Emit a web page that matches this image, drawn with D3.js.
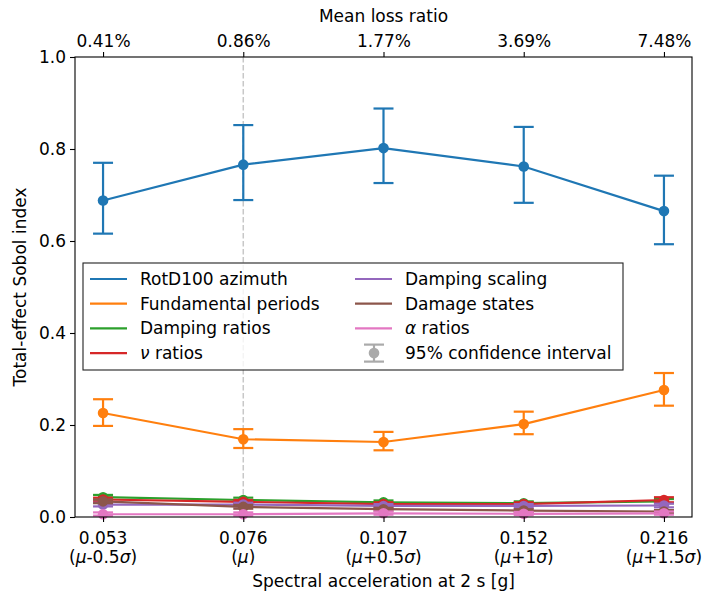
<!DOCTYPE html>
<html>
<head>
<meta charset="utf-8">
<script src="https://cdn.jsdelivr.net/npm/d3@7"></script>
<style>
  body { margin: 0; background: #fff; }
  text { font-family: "DejaVu Sans", sans-serif; fill: #000; }
</style>
</head>
<body>
<div id="chart"></div>
<script>
// Données
const saLabels = ["0.053", "0.076", "0.107", "0.152", "0.216"];
const saNotes = ["-0.5", "", "+0.5", "+1", "+1.5"];
const lossLabels = ["0.41%", "0.86%", "1.77%", "3.69%", "7.48%"];
const yTicks = [0, 0.2, 0.4, 0.6, 0.8, 1.0];

const seriesNames = ["RotD100 azimuth", "Fundamental periods", "Damping ratios", "ν ratios",
                     "Damping scaling", "Damage states", "α ratios"];
const seriesColors = ["#1f77b4", "#ff7f0e", "#2ca02c", "#d62728", "#9467bd", "#8c564b", "#e377c2"];

const azimuth     = [0.688, 0.766, 0.802, 0.762, 0.665];
const azimuthLo   = [0.616, 0.689, 0.726, 0.683, 0.593];
const azimuthHi   = [0.770, 0.852, 0.888, 0.848, 0.742];
const periods     = [0.226, 0.169, 0.163, 0.202, 0.276];
const periodsLo   = [0.198, 0.150, 0.145, 0.180, 0.242];
const periodsHi   = [0.256, 0.191, 0.185, 0.229, 0.313];
const damping     = [0.043, 0.037, 0.032, 0.030, 0.034];
const dampingLo   = [0.038, 0.032, 0.028, 0.026, 0.030];
const dampingHi   = [0.048, 0.042, 0.036, 0.034, 0.039];
const nu          = [0.038, 0.033, 0.028, 0.028, 0.037];
const nuLo        = [0.034, 0.029, 0.024, 0.024, 0.032];
const nuHi        = [0.042, 0.037, 0.032, 0.032, 0.043];
const scaling     = [0.027, 0.027, 0.024, 0.024, 0.025];
const scalingLo   = [0.023, 0.023, 0.020, 0.020, 0.021];
const scalingHi   = [0.031, 0.031, 0.028, 0.028, 0.029];
const damage      = [0.034, 0.022, 0.017, 0.014, 0.012];
const damageLo    = [0.030, 0.018, 0.014, 0.011, 0.009];
const damageHi    = [0.038, 0.026, 0.020, 0.017, 0.015];
const alpha       = [0.006, 0.006, 0.008, 0.007, 0.008];
const alphaLo     = [0.003, 0.003, 0.005, 0.004, 0.005];
const alphaHi     = [0.010, 0.010, 0.012, 0.011, 0.012];

const seriesValues = [azimuth, periods, damping, nu, scaling, damage, alpha];
const seriesLo = [azimuthLo, periodsLo, dampingLo, nuLo, scalingLo, damageLo, alphaLo];
const seriesHi = [azimuthHi, periodsHi, dampingHi, nuHi, scalingHi, damageHi, alphaHi];

// Dimensions
const width = 704, height = 592;
const margin = {left: 75, right: 12, top: 57, bottom: 75};
const plotW = width - margin.left - margin.right;
const plotH = height - margin.top - margin.bottom;
const fs = "17px";

const svg = d3.select("#chart").append("svg")
  .attr("width", width)
  .attr("height", height);

const g = svg.append("g").attr("transform", `translate(${margin.left},${margin.top})`);

const x = d3.scaleLinear().domain([-0.2, 4.2]).range([0, plotW]);
const y = d3.scaleLinear().domain([0, 1]).range([plotH, 0]);
const idx = d3.range(saLabels.length);

// Ligne verticale pointillée à μ
g.append("line")
  .attr("x1", x(1)).attr("x2", x(1))
  .attr("y1", 0).attr("y2", plotH)
  .attr("stroke", "#c8c8c8")
  .attr("stroke-width", 1.5)
  .attr("stroke-dasharray", "5.5,2.5");

// Séries, dans l'ordre (la dernière dessinée est au-dessus)
const line = d3.line().x((d, i) => x(i)).y(d => y(d));
const capW = 10;

seriesValues.forEach((vals, s) => {
  const col = seriesColors[s];
  const sg = g.append("g");
  sg.append("path")
    .datum(vals)
    .attr("d", line)
    .attr("fill", "none")
    .attr("stroke", col)
    .attr("stroke-width", 2.2);
  // barres d'erreur
  idx.forEach(i => {
    const lo = y(seriesLo[s][i]), hi = y(seriesHi[s][i]);
    sg.append("line").attr("x1", x(i)).attr("x2", x(i)).attr("y1", lo).attr("y2", hi)
      .attr("stroke", col).attr("stroke-width", 2.2);
    [lo, hi].forEach(v => sg.append("line")
      .attr("x1", x(i) - capW).attr("x2", x(i) + capW).attr("y1", v).attr("y2", v)
      .attr("stroke", col).attr("stroke-width", 2.2));
  });
  sg.selectAll("circle")
    .data(vals)
    .join("circle")
      .attr("cx", (d, i) => x(i))
      .attr("cy", d => y(d))
      .attr("r", 5.3)
      .attr("fill", col);
});

// Cadre
g.append("rect")
  .attr("width", plotW).attr("height", plotH)
  .attr("fill", "none").attr("stroke", "#000").attr("stroke-width", 1.1);

// Axe Y
const yAxis = g.append("g")
  .call(d3.axisLeft(y).tickValues(yTicks).tickFormat(d3.format(".1f")).tickSize(5).tickPadding(4));
yAxis.select(".domain").remove();
yAxis.selectAll("text").style("font-size", fs).style("font-family", "DejaVu Sans");
yAxis.selectAll("line").attr("stroke-width", 1.1);

// Axe X du bas
const xb = g.append("g").attr("transform", `translate(0,${plotH})`)
  .call(d3.axisBottom(x).tickValues(idx).tickFormat("").tickSize(5));
xb.select(".domain").remove();
xb.selectAll("line").attr("stroke-width", 1.1);
idx.forEach(i => {
  g.append("text")
    .attr("x", x(i)).attr("y", plotH + 27)
    .attr("text-anchor", "middle")
    .style("font-size", fs)
    .text(saLabels[i]);
  const t2 = g.append("text")
    .attr("x", x(i)).attr("y", plotH + 46)
    .attr("text-anchor", "middle")
    .style("font-size", fs);
  t2.append("tspan").text("(");
  t2.append("tspan").style("font-style", "italic").text("μ");
  if (saNotes[i] !== "") {
    t2.append("tspan").text(saNotes[i]);
    t2.append("tspan").style("font-style", "italic").text("σ");
  }
  t2.append("tspan").text(")");
});

// Axe X du haut
const xt = g.append("g")
  .call(d3.axisTop(x).tickValues(idx).tickFormat((d, i) => lossLabels[i]).tickSize(5).tickPadding(5));
xt.select(".domain").remove();
xt.selectAll("text").style("font-size", fs).style("font-family", "DejaVu Sans");
xt.selectAll("line").attr("stroke-width", 1.1);

// Titres des axes
svg.append("text")
  .attr("x", margin.left + plotW / 2).attr("y", 22)
  .attr("text-anchor", "middle").style("font-size", fs)
  .text("Mean loss ratio");
svg.append("text")
  .attr("x", margin.left + plotW / 2).attr("y", 587)
  .attr("text-anchor", "middle").style("font-size", fs)
  .text("Spectral acceleration at 2 s [g]");
svg.append("text")
  .attr("transform", `translate(26,${margin.top + plotH / 2}) rotate(-90)`)
  .attr("text-anchor", "middle").style("font-size", fs)
  .text("Total-effect Sobol index");

// Légende
const leg = svg.append("g").attr("transform", "translate(83,263)");
leg.append("rect")
  .attr("width", 540).attr("height", 107)
  .attr("fill", "#fff").attr("fill-opacity", 0.8)
  .attr("stroke", "#222").attr("stroke-width", 1.1);

const legItems = seriesNames.map((n, i) => ({name: n, color: seriesColors[i]}));
legItems.push({name: "95% confidence interval", color: "#aaa", ci: true});

legItems.forEach((it, i) => {
  const col = Math.floor(i / 4), row = i % 4;
  const lx = 7 + col * 265, ly = 16 + row * 24.7;
  if (it.ci) {
    const cx = lx + 19;
    leg.append("line").attr("x1", cx).attr("x2", cx).attr("y1", ly - 8.5).attr("y2", ly + 8.5)
      .attr("stroke", it.color).attr("stroke-width", 2.2);
    [ly - 8.5, ly + 8.5].forEach(v => leg.append("line")
      .attr("x1", cx - 10).attr("x2", cx + 10).attr("y1", v).attr("y2", v)
      .attr("stroke", it.color).attr("stroke-width", 2.2));
    leg.append("circle").attr("cx", cx).attr("cy", ly).attr("r", 5.3).attr("fill", it.color);
  } else {
    leg.append("line").attr("x1", lx).attr("x2", lx + 37).attr("y1", ly).attr("y2", ly)
      .attr("stroke", it.color).attr("stroke-width", 2.2);
  }
  const t = leg.append("text").attr("x", lx + 50).attr("y", ly + 6).style("font-size", fs);
  if (it.name.startsWith("ν") || it.name.startsWith("α")) {
    t.append("tspan").style("font-style", "italic").text(it.name[0]);
    t.append("tspan").text(it.name.slice(1));
  } else {
    t.text(it.name);
  }
});
</script>
</body>
</html>
